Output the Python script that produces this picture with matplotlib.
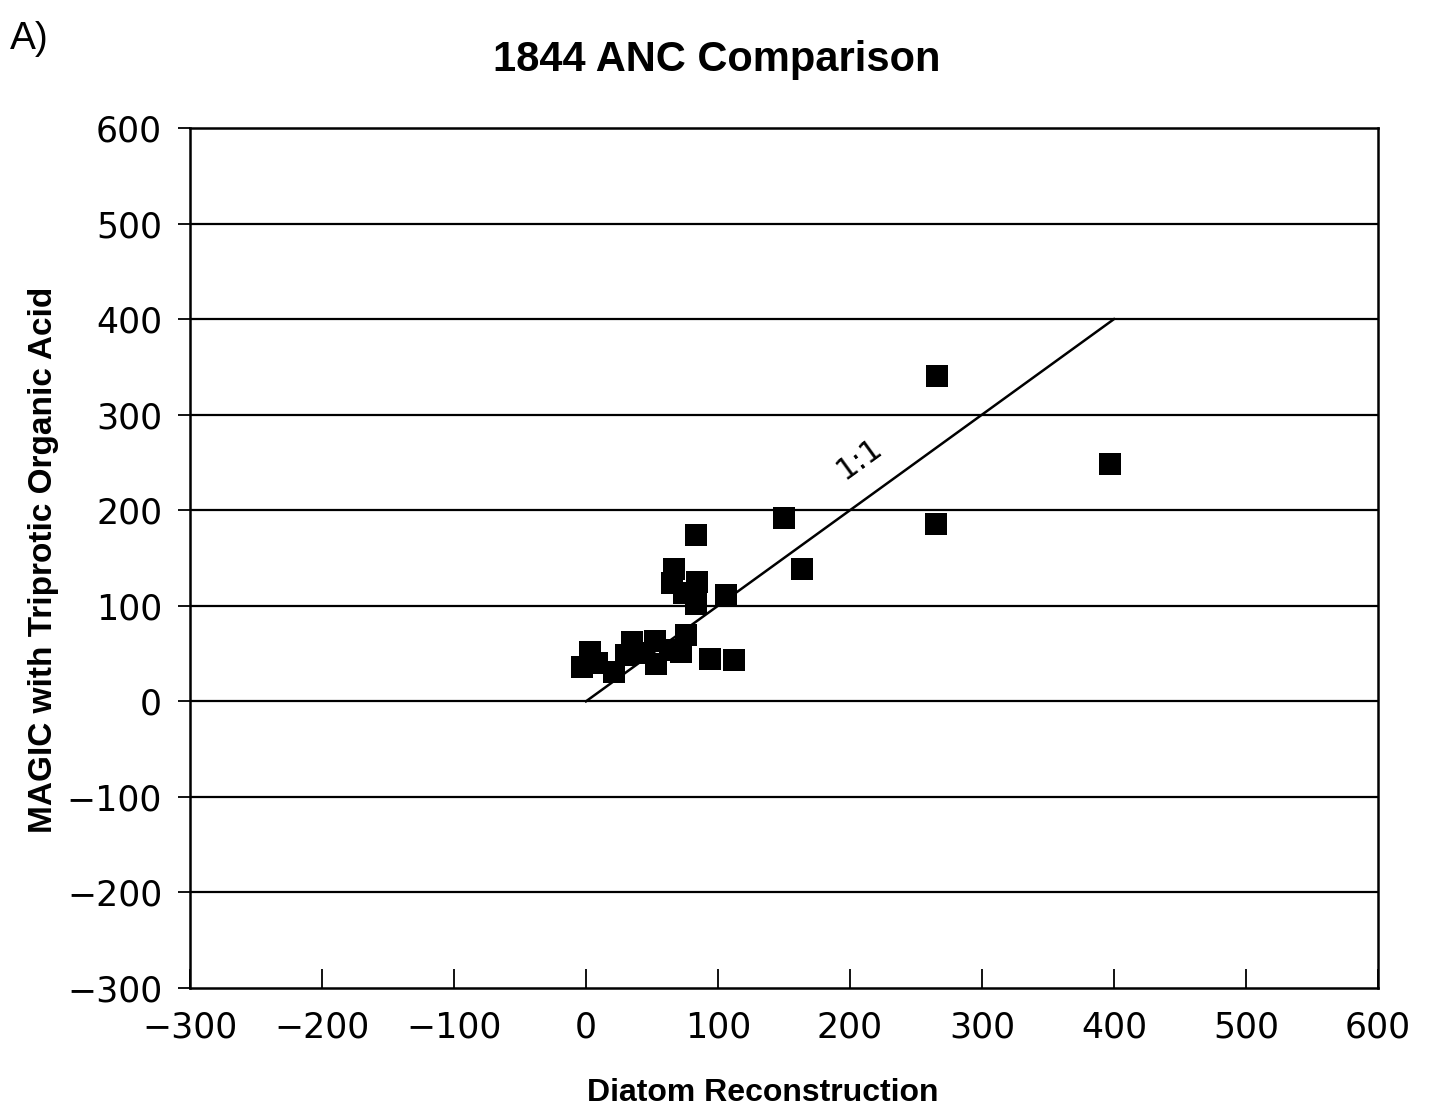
import matplotlib
matplotlib.use("Agg")
import matplotlib.pyplot as plt
import numpy as np

# diatom-inferred vs MAGIC (triprotic organic acid) ANC for 1844
diatom_anc = [266, 397, 265, 150, 164, 83, 67, 65, 84, 106, 83, 74, 76, 72,
              64, 94, 112, 53, 52, 44, 35, 30, 3, -3, 8, 21]
magic_anc = [340, 248, 186, 192, 138, 174, 138, 124, 125, 111, 102, 113, 69, 52,
             54, 44, 43, 39, 63, 51, 62, 48, 52, 36, 40, 31]
one_to_one = [0, 400]
ticks = np.arange(-300, 601, 100)

bold_font = ['Liberation Sans', 'DejaVu Sans']

fig = plt.figure(figsize=(14.36, 11.14), dpi=100)
ax = fig.add_axes([0.1323, 0.1131, 0.8273, 0.772])

# horizontal grid at every 100
for t in ticks[1:-1]:
    ax.axhline(t, color='black', lw=1.6, zorder=1)

ax.plot(one_to_one, one_to_one, color='black', lw=1.8, zorder=2)
ax.scatter(diatom_anc, magic_anc, marker='s', s=250, color='black',
           edgecolors='none', zorder=3)
ax.text(207, 254, '1:1', rotation=36, ha='center', va='center', fontsize=22,
        family='DejaVu Sans')

ax.set_xlim(-300, 600)
ax.set_ylim(-300, 600)
ax.set_xticks(ticks)
ax.set_yticks(ticks)
ax.tick_params(axis='x', direction='in', length=14, width=1.3, pad=16,
               labelsize=25)
ax.tick_params(axis='y', direction='out', length=9, width=1.3, pad=11,
               labelsize=25)
for spine in ax.spines.values():
    spine.set_linewidth(1.8)

fig.text(0.499, 0.946, '1844 ANC Comparison', family=bold_font,
         fontweight='bold', fontsize=30, ha='center', va='center')
fig.text(0.531, 0.019, 'Diatom Reconstruction', family=bold_font,
         fontweight='bold', fontsize=23, ha='center', va='center')
fig.text(0.030, 0.497, 'MAGIC with Triprotic Organic Acid', family=bold_font,
         fontweight='bold', fontsize=24, rotation=90, ha='center', va='center')
fig.text(0.007, 0.965, 'A)', family=bold_font, fontsize=28, ha='left',
         va='center')

fig.savefig('out.png', dpi=100)
